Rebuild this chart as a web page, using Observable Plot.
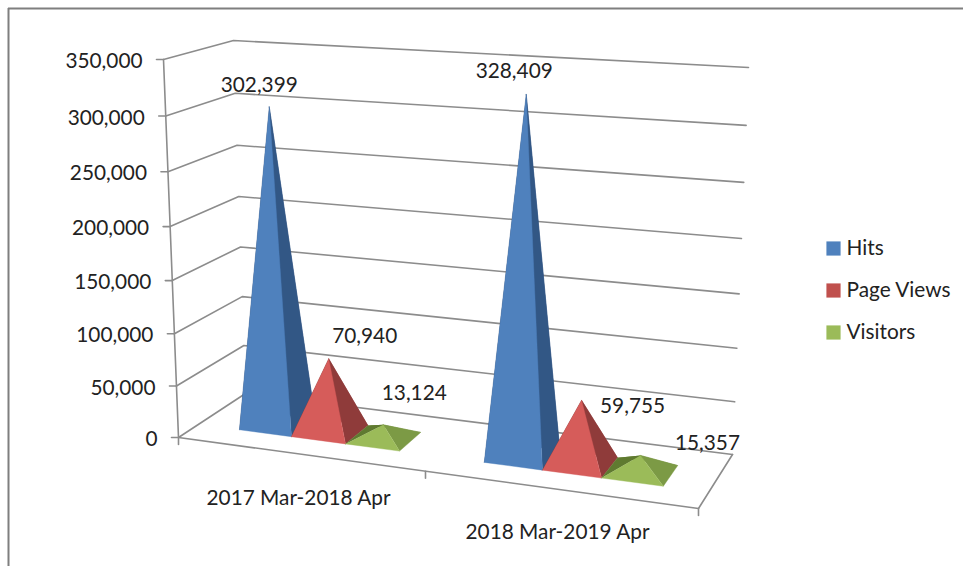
<!DOCTYPE html>
<html>
<head>
<meta charset="utf-8">
<style>html,body{margin:0;padding:0;background:#fff}svg{display:block}</style>
<script src="https://cdn.jsdelivr.net/npm/d3@7"></script>
<script src="https://cdn.jsdelivr.net/npm/@observablehq/plot@0.6"></script>
</head>
<body>
<div id="chart"></div>
<script>
const categories = ["2017 Mar-2018 Apr", "2018 Mar-2019 Apr"];
const seriesNames = ["Hits", "Page Views", "Visitors"];
const hits = [302399, 328409];
const pageViews = [70940, 59755];
const visitors = [13124, 15357];
const valueTicks = [0, 50000, 100000, 150000, 200000, 250000, 300000, 350000];
const valueMax = 350000;

// layout of the 3-D box
const corners = {
  fl0: [178, 437], fr0: [698, 508], br0: [732, 454], bl0: [245, 393],
  fl1: [163, 59],  fr1: [712, 94],  br1: [748, 67],  bl1: [233, 40]
};
const baseEdges = [[0.08, 0.182, 0.288, 0.394], [0.56, 0.674, 0.79, 0.911]];
const depthFront = 0.3, depthBack = 0.69, perspective = 0.055;
const faceColors = [
  {front: "#4f81bd", right: "#325785", left: "#325785", back: "#325785"},
  {front: "#d65c5a", right: "#8f3b3a", left: "#8f3b3a", back: "#8f3b3a"},
  {front: "#9bbb59", right: "#7c9a45", left: "#5f7a30", back: "#6f8c3a"}
];
const swatchColors = ["#4f81bd", "#c0504d", "#9bbb59"];
const labelOffsets = [
  [[-10, -22], [36, -22], [31, -31]],
  [[-12, -23], [51, 6], [67, -12]]
];
const categoryLabelPos = [[298, 498], [557, 532]];
const legendY = [248, 290, 332];

const c = corners;
function project(a, w, v) {
  const t0 = v / valueMax;
  const t = t0 - perspective * t0 * (1 - t0);
  const out = [];
  for (const i of [0, 1]) {
    const bottom = (1 - w) * ((1 - a) * c.fl0[i] + a * c.fr0[i]) + w * ((1 - a) * c.bl0[i] + a * c.br0[i]);
    const top = (1 - w) * ((1 - a) * c.fl1[i] + a * c.fr1[i]) + w * ((1 - a) * c.bl1[i] + a * c.br1[i]);
    out.push(bottom + t * (top - bottom));
  }
  return out;
}

const seriesValues = [hits, pageViews, visitors];
const faces = [], labels = [];
categories.forEach((cat, g) => {
  seriesValues.forEach((vals, s) => {
    const a0 = baseEdges[g][s], a1 = baseEdges[g][s + 1];
    const am = (a0 + a1) / 2, wm = (depthFront + depthBack) / 2;
    const apex = project(am, wm, vals[g]);
    const FL = project(a0, depthFront, 0), FR = project(a1, depthFront, 0);
    const BR = project(a1, depthBack, 0), BL = project(a0, depthBack, 0);
    const col = faceColors[s];
    const add = (name, pts) => pts.forEach(p =>
      faces.push({id: `${g}-${s}-${name}`, x: p[0], y: p[1], color: col[name]}));
    add("back", [BL, BR, apex]);
    add("left", [BL, FL, apex]);
    add("right", [FR, BR, apex]);
    add("front", [FL, FR, apex]);
    const off = labelOffsets[g][s];
    labels.push({x: apex[0] + off[0], y: apex[1] + off[1], text: d3.format(",")(vals[g])});
  });
});

const frameLines = [];
const addLine = (id, pts) => pts.forEach(p => frameLines.push({id, x: p[0], y: p[1]}));
valueTicks.forEach(v => {
  addLine("grid" + v, [project(0, 0, v), project(0, 1, v), project(1, 1, v)]);
  const p = project(0, 0, v);
  addLine("tick" + v, [p, [p[0] - 7, p[1]]]);
});
addLine("axis", [project(0, 0, 0), project(0, 0, valueMax)]);
addLine("floor", [project(0, 0, 0), project(1, 0, 0), project(1, 1, 0)]);
[0, 0.475, 1].forEach((a, i) => {
  const p = project(a, 0, 0);
  addLine("ctick" + i, [p, [p[0], p[1] + 7]]);
});

const valueLabels = valueTicks.map(v => {
  const p = project(0, 0, v);
  return {x: p[0] - 21, y: p[1] + 2, text: d3.format(",")(v)};
});
const catLabels = categories.map((t, i) => ({x: categoryLabelPos[i][0], y: categoryLabelPos[i][1], text: t}));
const legend = seriesNames.map((t, i) => ({t, y: legendY[i], color: swatchColors[i]}));

const font = {fontFamily: "Lato, 'Open Sans', sans-serif", fontSize: 20.8, fill: "#222"};

const plot = Plot.plot({
  width: 963, height: 566,
  margin: 0,
  x: {domain: [0, 963], range: [0, 963], axis: null},
  y: {domain: [0, 566], range: [0, 566], axis: null},
  color: {type: "identity"},
  style: {background: "#fff"},
  marks: [
    Plot.ruleY([8], {x1: 8, x2: 963, stroke: "#7f7f7f", strokeWidth: 2}),
    Plot.ruleX([8], {y1: 8, y2: 566, stroke: "#7f7f7f", strokeWidth: 2}),
    Plot.line(frameLines, {x: "x", y: "y", z: "id", stroke: "#8c8c8c", strokeWidth: 1.6, curve: "linear"}),
    Plot.line(faces, {x: "x", y: "y", z: "id", fill: "color", stroke: "color", strokeWidth: 0.4, curve: "linear"}),
    Plot.text(valueLabels, {x: "x", y: "y", text: "text", textAnchor: "end", ...font}),
    Plot.text(labels, {x: "x", y: "y", text: "text", ...font}),
    Plot.text(catLabels, {x: "x", y: "y", text: "text", ...font}),
    Plot.dot(legend, {x: () => 833, y: "y", symbol: "square", r: 8, fill: "color"}),
    Plot.text(legend, {x: () => 846, y: "y", text: "t", textAnchor: "start", ...font})
  ]
});
document.getElementById("chart").appendChild(plot);
</script>
</body>
</html>
